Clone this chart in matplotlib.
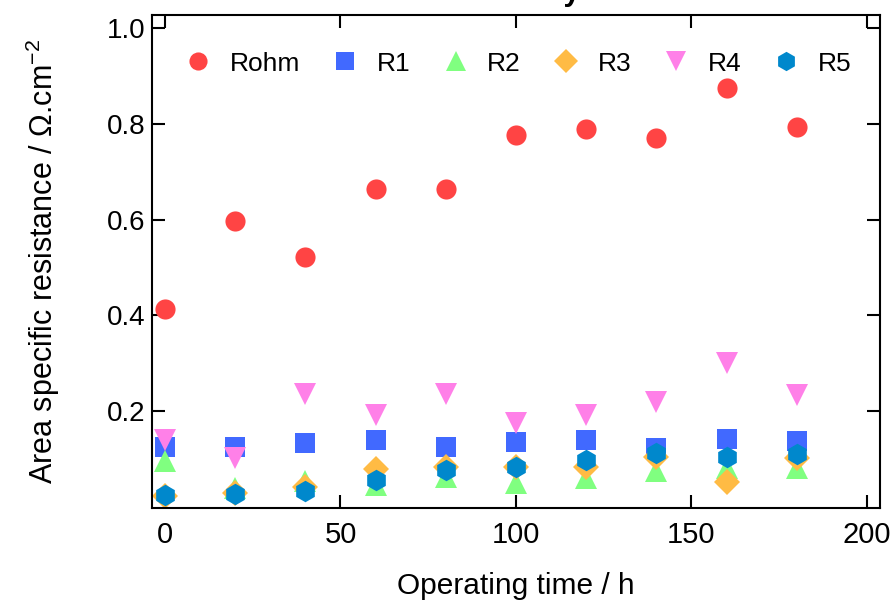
import matplotlib
matplotlib.use("Agg")
import matplotlib.pyplot as plt

# data
hours = [0, 20, 40, 60, 80, 100, 120, 140, 160, 180]
r_ohm = [0.414, 0.597, 0.522, 0.663, 0.664, 0.776, 0.789, 0.770, 0.874, 0.793]
r1 = [0.126, 0.125, 0.134, 0.139, 0.126, 0.136, 0.141, 0.124, 0.142, 0.138]
r2 = [0.096, 0.040, 0.055, 0.047, 0.062, 0.050, 0.060, 0.076, 0.081, 0.081]
r3 = [0.023, 0.029, 0.042, 0.079, 0.083, 0.083, 0.084, 0.104, 0.053, 0.102]
r4 = [0.141, 0.102, 0.237, 0.192, 0.237, 0.175, 0.192, 0.219, 0.300, 0.233]
r5 = [0.025, 0.027, 0.033, 0.056, 0.077, 0.083, 0.098, 0.112, 0.105, 0.110]

labels = ["Rohm", "R1", "R2", "R3", "R4", "R5"]
colors = ["#FF4444", "#4169FF", "#80FF80", "#FFBB44", "#FF80E8", "#0088CC"]
markers = ["o", "s", "^", "D", "v", "h"]
sizes = [14.5, 14.5, 16, 13.5, 16, 15.5]

plt.rcParams["font.family"] = ["Liberation Sans", "DejaVu Sans"]
plt.rcParams["mathtext.default"] = "regular"

fig = plt.figure(figsize=(8.94, 6.03), dpi=100)
ax = fig.add_axes([0.170, 0.1575, 0.8143, 0.8176])

series = [r_ohm, r1, r2, r3, r4, r5]
for vals, lab, c, m, s in zip(series, labels, colors, markers, sizes):
    ax.plot(hours, vals, linestyle="none", marker=m, markersize=s,
            color=c, markeredgewidth=0, label=lab)

ax.set_xlim(-3.7, 203.7)
ax.set_ylim(-0.002, 1.027)
ax.set_xticks([0, 50, 100, 150, 200])
ax.set_yticks([0.2, 0.4, 0.6, 0.8, 1.0])
ax.set_yticklabels(["0.2", "0.4", "0.6", "0.8", "1.0"])

for sp in ax.spines.values():
    sp.set_linewidth(1.5)
ax.tick_params(direction="in", length=9.5, width=1.5, top=True, right=True)
ax.tick_params(axis="y", labelsize=20, pad=5)
ax.tick_params(axis="x", labelsize=21, pad=9)

ax.set_ylabel("Area specific resistance / Ω.cm$^{-2}$", fontsize=22, labelpad=32)
ax.set_xlabel("Operating time / h", fontsize=21.5, labelpad=17)

ax.legend(loc="upper left", bbox_to_anchor=(0.024, 0.947), ncol=6, frameon=False,
          fontsize=19, handlelength=1.4, handletextpad=0.5, columnspacing=1.0,
          markerscale=0.9, borderaxespad=0)

# title is mostly cut off at the top edge in the reference
fig.text(0.583, 1 - 7 / 603, "Stability", ha="center", va="bottom",
         fontsize=22, fontweight="bold")

fig.savefig("out.png", dpi=100)
